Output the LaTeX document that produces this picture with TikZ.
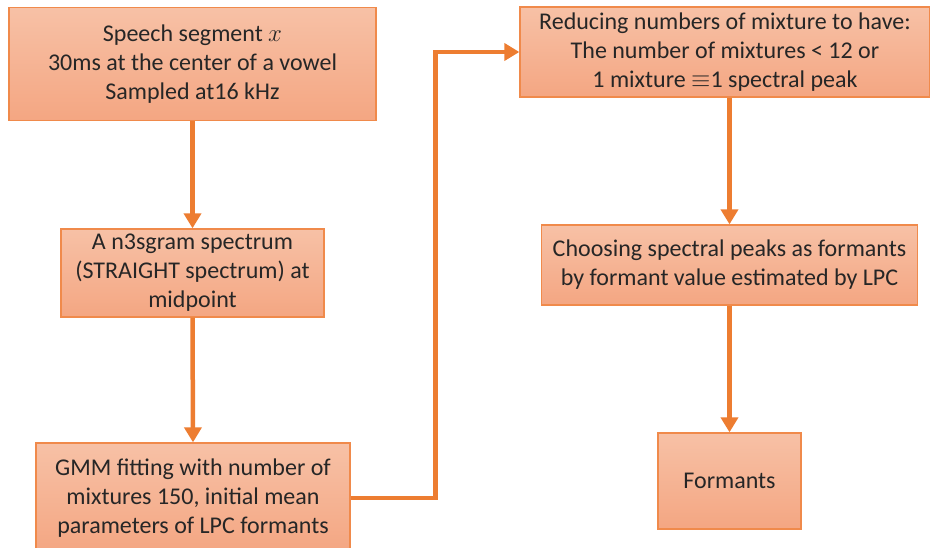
\documentclass[tikz,border=0pt]{standalone}
\usepackage{fontspec}
\setmainfont{Carlito}
\usetikzlibrary{arrows.meta}
\definecolor{boxtop}{HTML}{F7C1A6}
\definecolor{boxbot}{HTML}{F4A682}
\definecolor{boxline}{HTML}{F08A4B}
\definecolor{arrowc}{HTML}{ED7D31}
\definecolor{txt}{HTML}{262626}
\tikzset{
  stepbox/.style={draw=boxline, line width=1.3pt, top color=boxtop, bottom color=boxbot,
    inner sep=0pt, align=center, text=txt,
    font=\fontsize{24}{29}\selectfont},
  flow/.style={draw=arrowc, line width=4.5pt, -{Triangle[length=15pt,width=17pt]}},
}
\begin{document}
\begin{tikzpicture}[x=1pt,y=-1pt]
\useasboundingbox (0,0) rectangle (930,548);
\clip (0,0) rectangle (930,548);
\node[stepbox, minimum width=367pt, minimum height=113pt] (b1) at (192.5,64)
  {Speech segment $x$\\30ms at the center of a vowel\\Sampled at16 kHz};
\node[stepbox, minimum width=263pt, minimum height=88pt] (b2) at (192.5,273)
  {A n3sgram spectrum\\(STRAIGHT spectrum) at\\midpoint};
\node[stepbox, minimum width=314pt, minimum height=110pt] (b3) at (193,498)
  {GMM fitting with number of\\mixtures 150, initial mean\\parameters of LPC formants};
\node[stepbox, minimum width=410pt, minimum height=90pt] (b4) at (725,52)
  {Reducing numbers of mixture to have:\\The number of mixtures < 12 or\\1 mixture $\equiv$1 spectral peak};
\node[stepbox, minimum width=376pt, minimum height=80pt] (b5) at (729.5,265)
  {Choosing spectral peaks as formants\\by formant value estimated by LPC};
\node[stepbox, minimum width=143pt, minimum height=96pt] (b6) at (729.5,481)
  {Formants};
\draw[flow] (b1.south) -- (b2.north);
\draw[flow] (b2.south) -- (b3.north);
\draw[flow] (b3.east) -- ++(85,0) |- (b4.west);
\draw[flow] (b4.south -| b5.north) -- (b5.north);
\draw[flow] (b5.south) -- (b6.north);
\end{tikzpicture}
\end{document}
